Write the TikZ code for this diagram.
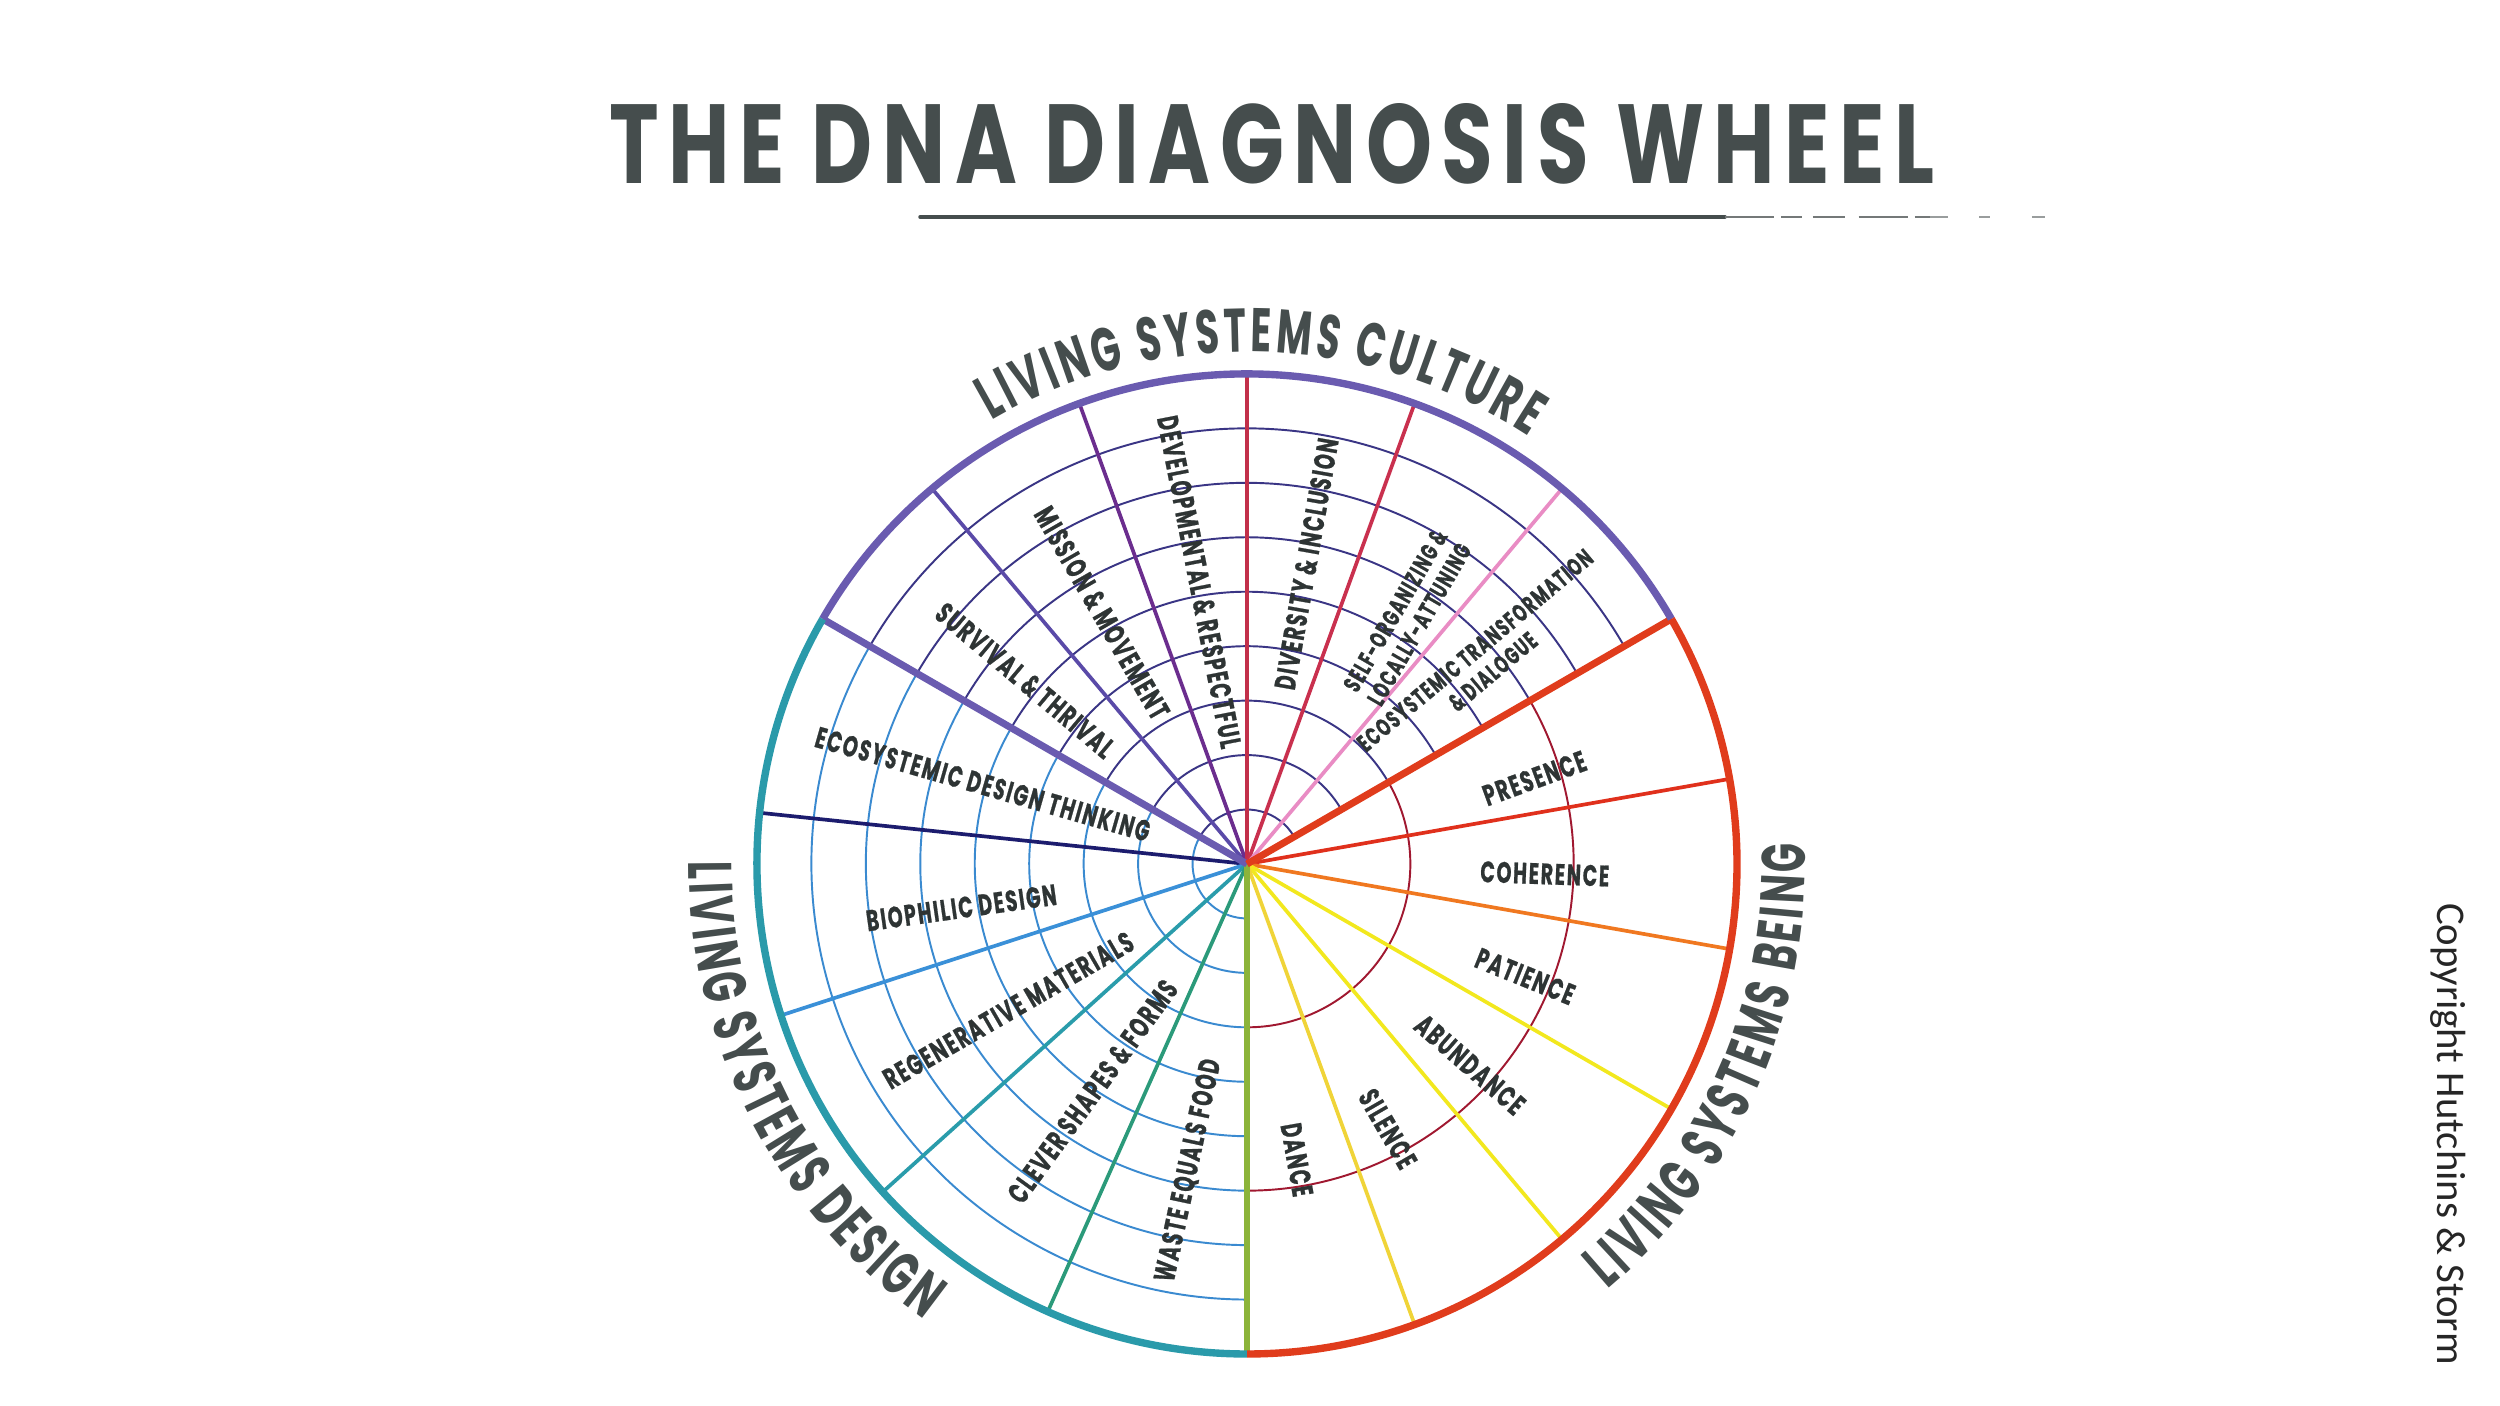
\documentclass[tikz,border=0pt]{standalone}
\usepackage{fontspec}
\usepackage{graphicx}
\usetikzlibrary{decorations.text}
\newfontfamily\hand{Poppins}[FakeStretch=0.62]
\newfontfamily\handlab{Poppins}[FakeStretch=0.64, LetterSpace=6, FakeBold=0.7]
\newfontfamily\titlefont{Poppins}[FakeStretch=0.62, LetterSpace=7]
\newfontfamily\copyfont{Carlito}
\definecolor{ink}{HTML}{454D4D}
\definecolor{labink}{HTML}{2E3434}
\definecolor{cPurple}{HTML}{6A5BB0}
\definecolor{cTeal}{HTML}{2A9AAA}
\definecolor{cRed}{HTML}{E03C1C}
\definecolor{ringC}{HTML}{3A3585}
\definecolor{ringD}{HTML}{3A8AD0}
\definecolor{ringB}{HTML}{A01830}
\definecolor{sA}{HTML}{5A4AA8}
\definecolor{sB}{HTML}{6B2D8E}
\definecolor{sC}{HTML}{C2304A}
\definecolor{sD}{HTML}{C9304E}
\definecolor{sE}{HTML}{E98CC4}
\definecolor{sF}{HTML}{E0301C}
\definecolor{sG}{HTML}{F07820}
\definecolor{sH}{HTML}{F2E81E}
\definecolor{sI}{HTML}{F0D438}
\definecolor{sJ}{HTML}{8CB43A}
\definecolor{sK}{HTML}{1C1C6E}
\definecolor{sL}{HTML}{3A90D8}
\definecolor{sM}{HTML}{2A9CAB}
\definecolor{sN}{HTML}{2B9A7A}
\tikzset{
  ringline/.style={line width=0.55pt},
  spoke/.style={line width=1.05pt},
  bigspoke/.style={line width=2pt},
  rim/.style={line width=2.1pt},
  lab/.style={font=\handlab\bfseries\fontsize{8.4}{9.4}\selectfont, text=labink, inner sep=0pt, align=center},
  smalllab/.style={font=\handlab\bfseries\fontsize{7}{7.9}\selectfont, text=labink, inner sep=0pt, align=center},
}
\begin{document}
\begin{tikzpicture}
\useasboundingbox (0,0) rectangle (25,14.06);
\fill[white] (0,0) rectangle (25,14.06);
\def\R{4.9}
\coordinate (O) at (12.47,5.42);

% title
\node[inner sep=0pt, text=ink] (title) at (12.72,12.62)
  {\resizebox{13.25cm}{0.8cm}{\titlefont\bfseries THE DNA DIAGNOSIS WHEEL}};
\coordinate (u1) at (9.2,11.89);
\coordinate (u2) at (17.25,11.89);
\coordinate (u3) at (19.3,11.89);
\coordinate (u4) at (20.45,11.89);
\draw[line width=1pt, ink, line cap=round] (u1) -- (u2);
\draw[line width=0.8pt, ink!75, dash pattern=on 14pt off 2pt on 6pt off 3pt on 9pt off 4pt] (u2) -- (u3);
\draw[line width=0.6pt, ink!55, dash pattern=on 5pt off 9pt on 3pt off 12pt] (u3) -- (u4);

% rings
\foreach \k [evaluate=\k as \rr using \k*\R/9] in {1,...,8} {
  \draw[ringline, ringC] ([shift={(30:\rr)}]O) arc[start angle=30, end angle=150, radius=\rr];
  \draw[ringline, ringD] ([shift={(150:\rr)}]O) arc[start angle=150, end angle=270, radius=\rr];
}
\foreach \k [evaluate=\k as \rr using \k*\R/3] in {1,2} {
  \draw[ringline, ringB] ([shift={(-90:\rr)}]O) arc[start angle=-90, end angle=30, radius=\rr];
}

% spokes
\foreach \a/\c in {130/sA,110/sB,90/sC,70/sD,50/sE,10/sF,-10/sG,-30/sH,-50/sH,-70/sI,174/sK,198/sL,222/sM,246/sN} {
  \draw[spoke, \c] (O) -- ++(\a:\R);
}
\draw[line width=1.5pt, sJ] (O) -- ++(-90:\R);
\draw[bigspoke, cPurple] (O) -- ++(150:\R);
\draw[bigspoke, cRed] (O) -- ++(30:\R);

% rims
\draw[rim, cPurple] ([shift={(30:\R)}]O) arc[start angle=30, end angle=150, radius=\R];
\draw[rim, cTeal] ([shift={(150:\R)}]O) arc[start angle=150, end angle=270, radius=\R];
\draw[rim, cRed] ([shift={(-90:\R)}]O) arc[start angle=-90, end angle=30, radius=\R];

% culture labels
\node[lab, rotate=-79] (dev) at ([shift={(99.6:2.86)}]O) {DEVELOPMENTAL \& RESPECTFUL};
\node[lab, rotate=-60] (mis) at ([shift={(120:2.90)}]O) {MISSION \& MOVEMENT};
\node[lab, rotate=-40] (sur) at ([shift={(140.4:2.88)}]O) {SURVIVAL \& THRIVAL};
\node[lab, rotate=80] (div) at ([shift={(78.8:3.06)}]O) {DIVERSITY \& INCLUSION};
\node[smalllab, rotate=60] (self) at ([shift={(57:2.94)}]O) {SELF-ORGANIZING \&\\LOCALLY-ATTUNING};
\node[smalllab, rotate=40] (eco) at ([shift={(40.6:3.12)}]O) {ECOSYSTEMIC TRANSFORMATION\\\& DIALOGUE};

% being labels
\node[lab, rotate=20] (pre) at ([shift={(16.6:3.0)}]O) {PRESENCE};
\node[lab, rotate=-2] (coh) at ([shift={(-1.9:2.98)}]O) {COHERENCE};
\node[lab, rotate=-22] (pat) at ([shift={(-22:3.0)}]O) {PATIENCE};
\node[lab, rotate=-41] (abu) at ([shift={(-42:3.0)}]O) {ABUNDANCE};
\node[lab, rotate=-60] (sil) at ([shift={(-62:3.0)}]O) {SILENCE};
\node[lab, rotate=-80] (dan) at ([shift={(-80.4:3.0)}]O) {DANCE};

% design labels
\node[lab, rotate=-16] (edt) at ([shift={(163.2:2.76)}]O) {ECOSYSTEMIC DESIGN THINKING};
\node[lab, rotate=8] (bio) at ([shift={(188.7:2.89)}]O) {BIOPHILIC DESIGN};
\node[lab, rotate=30] (reg) at ([shift={(211.5:2.80)}]O) {REGENERATIVE MATERIALS};
\node[lab, rotate=54] (clv) at ([shift={(235.8:2.75)}]O) {CLEVER SHAPES \& FORMS};
\node[lab, rotate=78] (wst) at ([shift={(259.2:3.12)}]O) {WASTE EQUALS FOOD};

% curved group titles
\path[decorate, decoration={text along path, text align=center,
  text={|\hand\bfseries\fontsize{17.5}{17.5}\selectfont\color{ink}\kern1.1pt|LIVING SYSTEMS CULTURE}}]
  ([shift={(138.5:5.12)}]O) arc[start angle=138.5, end angle=38.5, radius=5.12];
\path[decorate, decoration={text along path, text align=center,
  text={|\hand\bfseries\fontsize{17.5}{17.5}\selectfont\color{ink}\kern1.1pt|LIVING SYSTEMS BEING}}]
  ([shift={(-74:5.58)}]O) arc[start angle=-74, end angle=26, radius=5.58];
\path[decorate, decoration={text along path, text align=center,
  text={|\hand\bfseries\fontsize{17.5}{17.5}\selectfont\color{ink}\kern1.1pt|LIVING SYSTEMS DESIGN}}]
  ([shift={(157:5.58)}]O) arc[start angle=157, end angle=257, radius=5.58];

% copyright
\node[rotate=-90, font=\copyfont\fontsize{11.6}{12}\selectfont, text=black!85, inner sep=0pt] (copy) at (24.48,2.72) {Copyright Hutchins \& Storm};
\end{tikzpicture}
\end{document}
